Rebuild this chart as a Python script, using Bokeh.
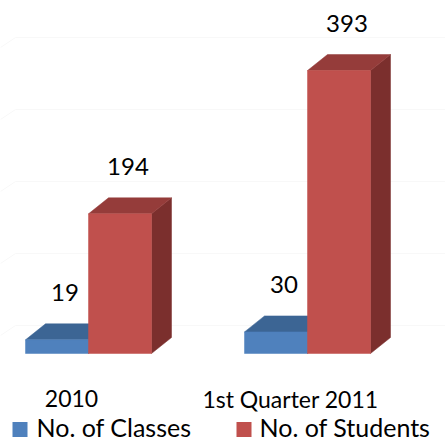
from bokeh.plotting import figure
from bokeh.models import Range1d
from bokeh.core.properties import value
from bokeh.embed import file_html
from bokeh.resources import INLINE

categories = ["2010", "1st Quarter 2011"]
series_names = ["No. of Classes", "No. of Students"]
classes = [19, 30]
students = [194, 393]
grid_values = [0, 100, 200, 300, 400]

front_colors = ["#4F81BD", "#C0504D"]
top_colors = ["#3C6594", "#953C3A"]
side_colors = ["#385D8A", "#7B2F2D"]

W, H = 445, 442
SX = 219.0      # px per category unit
SY = 0.72       # px per value unit
X0_PX = 88.0    # px of first category centre
BASE_PX = 353.0 # px (from top) of the value 0 on the front plane


def px2x(px):
    return (px - X0_PX) / SX


def px2y(py):
    return (BASE_PX - py) / SY


p = figure(width=W, height=H, output_backend="svg", toolbar_location=None,
           x_range=Range1d(px2x(0), px2x(W)), y_range=Range1d(px2y(H), px2y(0)),
           min_border=0, outline_line_color=None)
p.axis.visible = False
p.grid.visible = False
p.background_fill_color = "white"
p.border_fill_color = "white"

bw = 63.0 / SX
dx = 20.0 / SX
dy = 16.0 / SY

# faint back-wall gridlines
gx0 = px2x(15)
gx1 = px2x(W)
gxs, gys = [], []
for v in grid_values:
    yb = v + 28.0 / SY
    gxs.append([px2x(0), gx0, gx1])
    gys.append([yb - 10.0 / SY, yb, yb])
p.multi_line(gxs, gys, line_color="#F8F8F8", line_width=1)

series = [classes, students]
for j, vals in enumerate(series):
    fx, fy, tx, ty, sx, sy = [], [], [], [], [], []
    for i, h in enumerate(vals):
        x0 = i - bw if j == 0 else i
        x1 = x0 + bw
        fx.append([x0, x1, x1, x0]); fy.append([0, 0, h, h])
        tx.append([x0, x1, x1 + dx, x0 + dx]); ty.append([h, h, h + dy, h + dy])
        sx.append([x1, x1 + dx, x1 + dx, x1]); sy.append([0, dy, h + dy, h])
    p.patches(sx, sy, fill_color=side_colors[j], line_color=side_colors[j], line_width=0.5)
    p.patches(tx, ty, fill_color=top_colors[j], line_color=top_colors[j], line_width=0.5)
    p.patches(fx, fy, fill_color=front_colors[j], line_color=front_colors[j], line_width=0.5)

# value labels
lx, ly, lt = [], [], []
for j, vals in enumerate(series):
    for i, h in enumerate(vals):
        x0 = i - bw if j == 0 else i
        lx.append(x0 + bw / 2 + 8.0 / SX)
        ly.append(h + dy)
        lt.append(str(h))
p.text(lx, ly, text=lt, text_align="center", text_baseline="middle",
       y_offset=-31, text_font=value("Lato"), text_font_size="24px",
       text_color="#000000")

# category labels
p.text([i - 17.0 / SX for i in range(len(categories))],
       [px2y(398)] * len(categories), text=categories,
       text_align="center", text_baseline="middle",
       text_font=value("Lato"), text_font_size="23px", text_color="#000000")

# legend
sq_px = [19.5, 243.5]
txt_px = [36, 259]
p.scatter([px2x(v) for v in sq_px], [px2y(429)] * 2, marker="square", size=15,
          fill_color=front_colors, line_color=None)
p.text([px2x(v) for v in txt_px], [px2y(426)] * 2, text=series_names,
       text_align="left", text_baseline="middle",
       text_font=value("Lato"), text_font_size="25px", text_color="#000000")

open("out.html", "w").write(file_html(p, INLINE))
